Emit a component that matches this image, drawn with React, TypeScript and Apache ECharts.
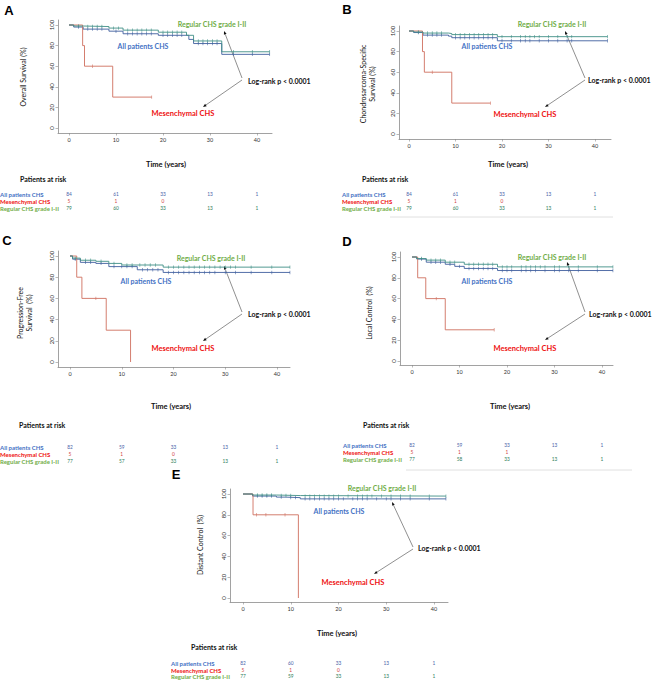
import { useEffect, useRef } from 'react';
import * as echarts from 'echarts';

const xTicks = [0, 10, 20, 30, 40];
const yTicks = [0, 20, 40, 60, 80, 100];
const groupNames = ['All patients CHS', 'Mesenchymal CHS', 'Regular CHS grade I-II'];
const letters = ['A', 'B', 'C', 'D', 'E'];
const yNames = [
  'Overall Survival (%)',
  'Chondrosarcoma-Specific\nSurvival (%)',
  'Progression-Free\nSurvival  (%)',
  'Local Control  (%)',
  'Distant Control  (%)',
];

// A – overall survival
const allA = [[0, 100], [1, 98], [3, 96], [8.5, 94], [11.5, 91.5], [19, 90], [25.5, 86], [26.5, 82], [32.5, 71.5], [42.7, 71.5]];
const regA = [[0, 100], [1, 99], [3, 98.5], [8.5, 97], [11.5, 95], [19, 93], [25, 90], [26.5, 84.5], [32.5, 74], [42.7, 74]];
const mesA = [[0, 100], [2.9, 80], [3.3, 60], [9.3, 30], [17.6, 30]];
const allCensA = [[2, 98], [4, 96], [5, 96], [6, 96], [7, 96], [10, 94], [12.5, 91.5], [13.5, 91.5], [14.5, 91.5], [15.5, 91.5], [16.5, 91.5], [17.5, 91.5], [20, 90], [21, 90], [22, 90], [23, 90], [24, 90], [27.5, 82], [28.5, 82], [29.5, 82], [30.5, 82], [31.5, 82], [35, 71.5], [39, 71.5], [42.7, 71.5]];
const regCensA = [[2, 99], [4, 98.5], [5, 98.5], [6, 98.5], [7, 98.5], [9.5, 97], [10.5, 97], [12.5, 95], [13.5, 95], [14.5, 95], [15.5, 95], [16.5, 95], [17.5, 95], [20, 93], [21, 93], [22, 93], [23, 93], [24, 93], [27.5, 84.5], [28.5, 84.5], [29.5, 84.5], [30.5, 84.5], [31.5, 84.5], [35, 74], [39, 74], [42.7, 74]];
const mesCensA = [[5, 60], [17.6, 30]];
const riskA = [[84, 61, 33, 13, 1], [5, 1, 0], [79, 60, 33, 13, 1]];

// B – chondrosarcoma-specific survival
const allB = [[0, 100], [1, 98.5], [3, 96], [8.5, 95], [9.2, 93.5], [19, 90.5], [42.7, 90.5]];
const regB = [[0, 100], [1, 99], [3, 98], [8.5, 97.5], [9.2, 96.5], [19, 94.5], [42.7, 94.5]];
const mesB = [[0, 100], [2.9, 80], [3.3, 60], [9.2, 30], [17.5, 30]];
const allCensB = [[2, 98.5], [4, 96], [5, 96], [6, 96], [7, 96], [10, 93.5], [11, 93.5], [12, 93.5], [13, 93.5], [14, 93.5], [15, 93.5], [16, 93.5], [17, 93.5], [18, 93.5], [20, 90.5], [22, 90.5], [24, 90.5], [25, 90.5], [26, 90.5], [28, 90.5], [30, 90.5], [32, 90.5], [34, 90.5], [35, 90.5], [42.7, 90.5]];
const regCensB = [[2, 99], [4, 98], [5, 98], [6, 98], [7, 98], [10, 96.5], [11, 96.5], [12, 96.5], [13, 96.5], [14, 96.5], [15, 96.5], [16, 96.5], [17, 96.5], [18, 96.5], [20, 94.5], [22, 94.5], [24, 94.5], [25, 94.5], [26, 94.5], [27, 94.5], [28, 94.5], [30, 94.5], [32, 94.5], [34, 94.5], [35, 94.5], [42.7, 94.5]];
const mesCensB = [[5, 60], [17.5, 30]];
const riskB = [[84, 61, 33, 13, 1], [5, 1, 0], [79, 60, 33, 13, 1]];

// C – progression-free survival
const allC = [[0, 100], [0.5, 97], [2, 94], [5, 93], [7.5, 90], [13, 87], [18, 84.5], [42.5, 84.5]];
const regC = [[0, 100], [0.5, 98], [2, 96], [5, 95], [7.5, 93], [10, 91.5], [18, 89.5], [42.5, 89.5]];
const mesC = [[0, 100], [1.3, 80], [2.3, 60], [7, 30], [11.7, 0]];
const allCensC = [[1, 97], [3, 94], [4, 94], [6, 93], [8.5, 90], [10, 90], [11, 90], [12, 90], [14, 87], [15, 87], [16, 87], [17, 87], [19, 84.5], [20, 84.5], [21, 84.5], [22, 84.5], [23, 84.5], [24, 84.5], [25, 84.5], [26, 84.5], [27, 84.5], [28, 84.5], [30, 84.5], [32, 84.5], [35, 84.5], [39, 84.5], [42.5, 84.5]];
const regCensC = [[1, 98], [3, 96], [4, 96], [6, 95], [8.5, 93], [11, 91.5], [12, 91.5], [13.5, 91.5], [14.5, 91.5], [15.5, 91.5], [16.5, 91.5], [19, 89.5], [20, 89.5], [21, 89.5], [22, 89.5], [23, 89.5], [24, 89.5], [25, 89.5], [26, 89.5], [27, 89.5], [28, 89.5], [29, 89.5], [30, 89.5], [31, 89.5], [32, 89.5], [35, 89.5], [39, 89.5], [42.5, 89.5]];
const mesCensC = [[5, 60]];
const riskC = [[82, 59, 33, 13, 1], [5, 1, 0], [77, 57, 33, 13, 1]];

// D – local control
const allD = [[0, 100], [1, 98], [3, 95], [7, 93], [9, 91], [11, 89], [18, 87], [42.3, 87]];
const regD = [[0, 100], [1, 98.5], [3, 97], [7, 95], [11, 93], [18, 90.5], [42.3, 90.5]];
const mesD = [[0, 100], [1.2, 80], [2.9, 60], [7, 30], [17.3, 30]];
const allCensD = [[2, 98], [4, 95], [5, 95], [6, 95], [8, 93], [10, 91], [12, 89], [13, 89], [14, 89], [15, 89], [16, 89], [17, 89], [19, 87], [20, 87], [21, 87], [23, 87], [24, 87], [25, 87], [26, 87], [28, 87], [30, 87], [31, 87], [33, 87], [35, 87], [39, 87], [42.3, 87]];
const regCensD = [[2, 98.5], [4, 97], [5, 97], [6, 97], [8, 95], [9, 95], [12, 93], [13, 93], [14, 93], [15, 93], [16, 93], [17, 93], [19, 90.5], [20, 90.5], [21, 90.5], [23, 90.5], [24, 90.5], [25, 90.5], [26, 90.5], [27, 90.5], [28, 90.5], [30, 90.5], [31, 90.5], [33, 90.5], [35, 90.5], [39, 90.5], [42.3, 90.5]];
const mesCensD = [[5.1, 60], [17.3, 30]];
const riskD = [[82, 59, 33, 13, 1], [5, 1, 1], [77, 58, 33, 13, 1]];

// E – distant control
const allE = [[0, 100], [2, 98], [7, 97], [9, 96.5], [12, 95.3], [42.5, 95.3]];
const regE = [[0, 100], [2, 99], [7, 98.5], [12, 98], [42.5, 98]];
const mesE = [[0, 100], [2.1, 80], [11.6, 0]];
const allCensE = [[3, 98], [4, 98], [5, 98], [6, 98], [8, 97], [10, 96.5], [11, 96.5], [13, 95.3], [14, 95.3], [15, 95.3], [16, 95.3], [17, 95.3], [18, 95.3], [19, 95.3], [20, 95.3], [21, 95.3], [23, 95.3], [24, 95.3], [25, 95.3], [26, 95.3], [28, 95.3], [30, 95.3], [31, 95.3], [33, 95.3], [35, 95.3], [39, 95.3], [42.5, 95.3]];
const regCensE = [[3, 99], [4, 99], [5, 99], [6, 99], [8, 98.5], [9, 98.5], [10, 98.5], [13, 98], [14, 98], [15, 98], [16, 98], [17, 98], [18, 98], [19, 98], [20, 98], [22, 98], [24, 98], [25, 98], [26, 98], [27, 98], [29, 98], [31, 98], [33, 98], [35, 98], [39, 98], [42.5, 98]];
const mesCensE = [[2.8, 80], [4.8, 80], [8.8, 80]];
const riskE = [[82, 60, 33, 13, 1], [5, 1, 0], [77, 59, 33, 13, 1]];

const FONT = 'Lato, "Open Sans", sans-serif';
const lineColors = ['#3f5f9e', '#cf6f5f', '#3f8f86'];
const textColors = ['#4472c4', '#ee1111', '#70ad47'];
const riskColors = ['#4a5fa8', '#d04040', '#2e7d5a'];

// layout of each panel, in page pixels
const panels = [
  {
    all: allA, reg: regA, mes: mesA, allCens: allCensA, regCens: regCensA, mesCens: mesCensA, risk: riskA,
    left: 58, right: 272, top: 20, bottom: 133, x0: 69, x40: 257, y100: 25, y0: 128,
    letter: [9, 10], yName: [23, 77],
    reg_t: [212, 24], all_t: [143, 46], log_t: [248, 81], mes_t: [183, 113],
    arrows: [[242, 78, 224, 31], [242, 80, 203, 107]],
    time: [166, 164], riskTitle: [20, 179], rowX: 0, rows: [194, 201, 208], rule: null,
  },
  {
    all: allB, reg: regB, mes: mesB, allCens: allCensB, regCens: regCensB, mesCens: mesCensB, risk: riskB,
    left: 399, right: 611, top: 26, bottom: 139, x0: 409, x40: 595, y100: 31, y0: 134,
    letter: [347, 9], yName: [367, 84],
    reg_t: [552, 24], all_t: [487, 46], log_t: [588, 80], mes_t: [525, 114],
    arrows: [[585, 78, 565, 31], [585, 80, 545, 107]],
    time: [508, 164], riskTitle: [362, 179], rowX: 342, rows: [194, 201, 208], rule: [390, 613, 217],
  },
  {
    all: allC, reg: regC, mes: mesC, allCens: allCensC, regCens: regCensC, mesCens: mesCensC, risk: riskC,
    left: 58, right: 290, top: 251, bottom: 367, x0: 70, x40: 277, y100: 256, y0: 362,
    letter: [7, 240], yName: [24, 313],
    reg_t: [211, 258], all_t: [146, 281], log_t: [248, 314], mes_t: [183, 348],
    arrows: [[242, 312, 224, 266], [242, 314, 203, 341]],
    time: [171, 406], riskTitle: [19, 425], rowX: 0, rows: [447, 454, 461], rule: null,
  },
  {
    all: allD, reg: regD, mes: mesD, allCens: allCensD, regCens: regCensD, mesCens: mesCensD, risk: riskD,
    left: 400, right: 613, top: 252, bottom: 365, x0: 412, x40: 602, y100: 257, y0: 361,
    letter: [347, 241], yName: [369, 313],
    reg_t: [552, 257], all_t: [487, 281], log_t: [589, 314], mes_t: [525, 348],
    arrows: [[585, 312, 567, 262], [585, 314, 545, 340]],
    time: [510, 406], riskTitle: [363, 425], rowX: 343, rows: [445, 452, 459], rule: [406, 632, 470],
  },
  {
    all: allE, reg: regE, mes: mesE, allCens: allCensE, regCens: regCensE, mesCens: mesCensE, risk: riskE,
    left: 230, right: 448, top: 489, bottom: 602, x0: 243, x40: 434, y100: 494, y0: 598,
    letter: [176, 474], yName: [200, 545],
    reg_t: [382, 488], all_t: [339, 511], log_t: [418, 548], mes_t: [353, 582],
    arrows: [[413, 547, 392, 502], [413, 549, 374, 574]],
    time: [337, 633], riskTitle: [191, 647], rowX: 171, rows: [663, 670, 676], rule: null,
  },
];

function arrow(x1: number, y1: number, x2: number, y2: number) {
  const a = Math.atan2(y2 - y1, x2 - x1);
  const len = 3.5;
  const w = 1.4;
  const bx = x2 - len * Math.cos(a);
  const by = y2 - len * Math.sin(a);
  return [
    { type: 'line', shape: { x1, y1, x2: bx, y2: by }, style: { stroke: '#444', lineWidth: 0.6 } },
    {
      type: 'polygon',
      shape: { points: [[x2, y2], [bx - w * Math.sin(a), by + w * Math.cos(a)], [bx + w * Math.sin(a), by - w * Math.cos(a)]] },
      style: { fill: '#111' },
    },
  ];
}

function label(text: string, x: number, y: number, color: string, size: number, align = 'center', weight = 'bold') {
  return {
    type: 'text', x, y,
    style: { text, fill: color, fontSize: size, fontWeight: weight, fontFamily: FONT, align, verticalAlign: 'middle' },
  };
}

function buildOption() {
  const grid: any[] = [];
  const xAxis: any[] = [];
  const yAxis: any[] = [];
  const series: any[] = [];
  const graphic: any[] = [];
  const axisLine = { show: true, onZero: false, lineStyle: { color: '#8a8a8a', width: 0.8 } };
  const axisTick = { show: true, length: 2.5, lineStyle: { color: '#8a8a8a', width: 0.6 } };

  panels.forEach((p, i) => {
    const pxYr = (p.x40 - p.x0) / 40;
    const pxPct = (p.y0 - p.y100) / 100;
    grid.push({ left: p.left, top: p.top, width: p.right - p.left, height: p.bottom - p.top });
    xAxis.push({
      gridIndex: i, type: 'value',
      min: -(p.x0 - p.left) / pxYr, max: (p.right - p.x0) / pxYr,
      axisLine, axisTick: { ...axisTick, customValues: xTicks },
      axisLabel: { customValues: xTicks, fontSize: 5.5, color: '#333', margin: 4, fontFamily: FONT },
      splitLine: { show: false },
    });
    yAxis.push({
      gridIndex: i, type: 'value',
      min: -(p.bottom - p.y0) / pxPct, max: 100 + (p.y100 - p.top) / pxPct,
      axisLine, axisTick: { ...axisTick, customValues: yTicks },
      axisLabel: { customValues: yTicks, fontSize: 6, color: '#333', margin: 4, rotate: 90, fontFamily: FONT },
      splitLine: { show: false },
    });

    const curves = [p.all, p.mes, p.reg];
    const cens = [p.allCens, p.mesCens, p.regCens];
    [0, 2, 1].forEach((g) => {
      series.push({
        type: 'line', xAxisIndex: i, yAxisIndex: i, step: 'end', data: curves[g],
        symbol: 'none', lineStyle: { color: lineColors[g], width: 0.9 }, z: 2 + g,
      });
      series.push({
        type: 'scatter', xAxisIndex: i, yAxisIndex: i, data: cens[g],
        symbol: 'rect', symbolSize: [0.7, 3.4], itemStyle: { color: lineColors[g] }, z: 2 + g,
      });
    });

    // panel texts
    graphic.push({
      type: 'text', x: p.letter[0], y: p.letter[1],
      style: { text: letters[i], fontSize: 13, fontWeight: 'bold', fontFamily: '"Liberation Sans", Arial, sans-serif', fill: '#000', align: 'center', verticalAlign: 'middle' },
    });
    graphic.push({
      type: 'text', x: p.yName[0], y: p.yName[1], rotation: Math.PI / 2,
      style: { text: yNames[i], fontSize: 7, fontFamily: FONT, fill: '#111', align: 'center', verticalAlign: 'middle', lineHeight: 9 },
    });
    graphic.push(label('Regular CHS grade I-II', p.reg_t[0], p.reg_t[1], textColors[2], 7));
    graphic.push(label('All patients CHS', p.all_t[0], p.all_t[1], textColors[0], 7));
    graphic.push(label('Mesenchymal CHS', p.mes_t[0], p.mes_t[1], textColors[1], 7.5));
    graphic.push(label('Log-rank p < 0.0001', p.log_t[0], p.log_t[1], '#111', 7, 'left'));
    p.arrows.forEach((a) => graphic.push(...arrow(a[0], a[1], a[2], a[3])));
    graphic.push(label('Time (years)', p.time[0], p.time[1], '#111', 7.5));
    graphic.push(label('Patients at risk', p.riskTitle[0], p.riskTitle[1], '#111', 7, 'left'));

    groupNames.forEach((name, g) => {
      graphic.push(label(name, p.rowX, p.rows[g], textColors[g], 6, 'left', 'bold'));
      p.risk[g].forEach((n, k) => {
        graphic.push(label(String(n), p.x0 + k * (p.x40 - p.x0) / 4, p.rows[g], riskColors[g], 4.8, 'center', 'normal'));
      });
    });
    if (p.rule) {
      graphic.push({ type: 'line', shape: { x1: p.rule[0], y1: p.rule[2], x2: p.rule[1], y2: p.rule[2] }, style: { stroke: '#d8d8d8', lineWidth: 0.8 } });
    }
  });

  return { animation: false, backgroundColor: '#fff', grid, xAxis, yAxis, series, graphic };
}

export default function App() {
  const ref = useRef<HTMLDivElement>(null);

  useEffect(() => {
    if (!ref.current) return;
    const chart = echarts.init(ref.current, undefined, { renderer: 'svg' });
    chart.setOption(buildOption());
    return () => chart.dispose();
  }, []);

  return <div ref={ref} style={{ position: 'absolute', left: 0, top: 0, width: 657, height: 680 }} />;
}
